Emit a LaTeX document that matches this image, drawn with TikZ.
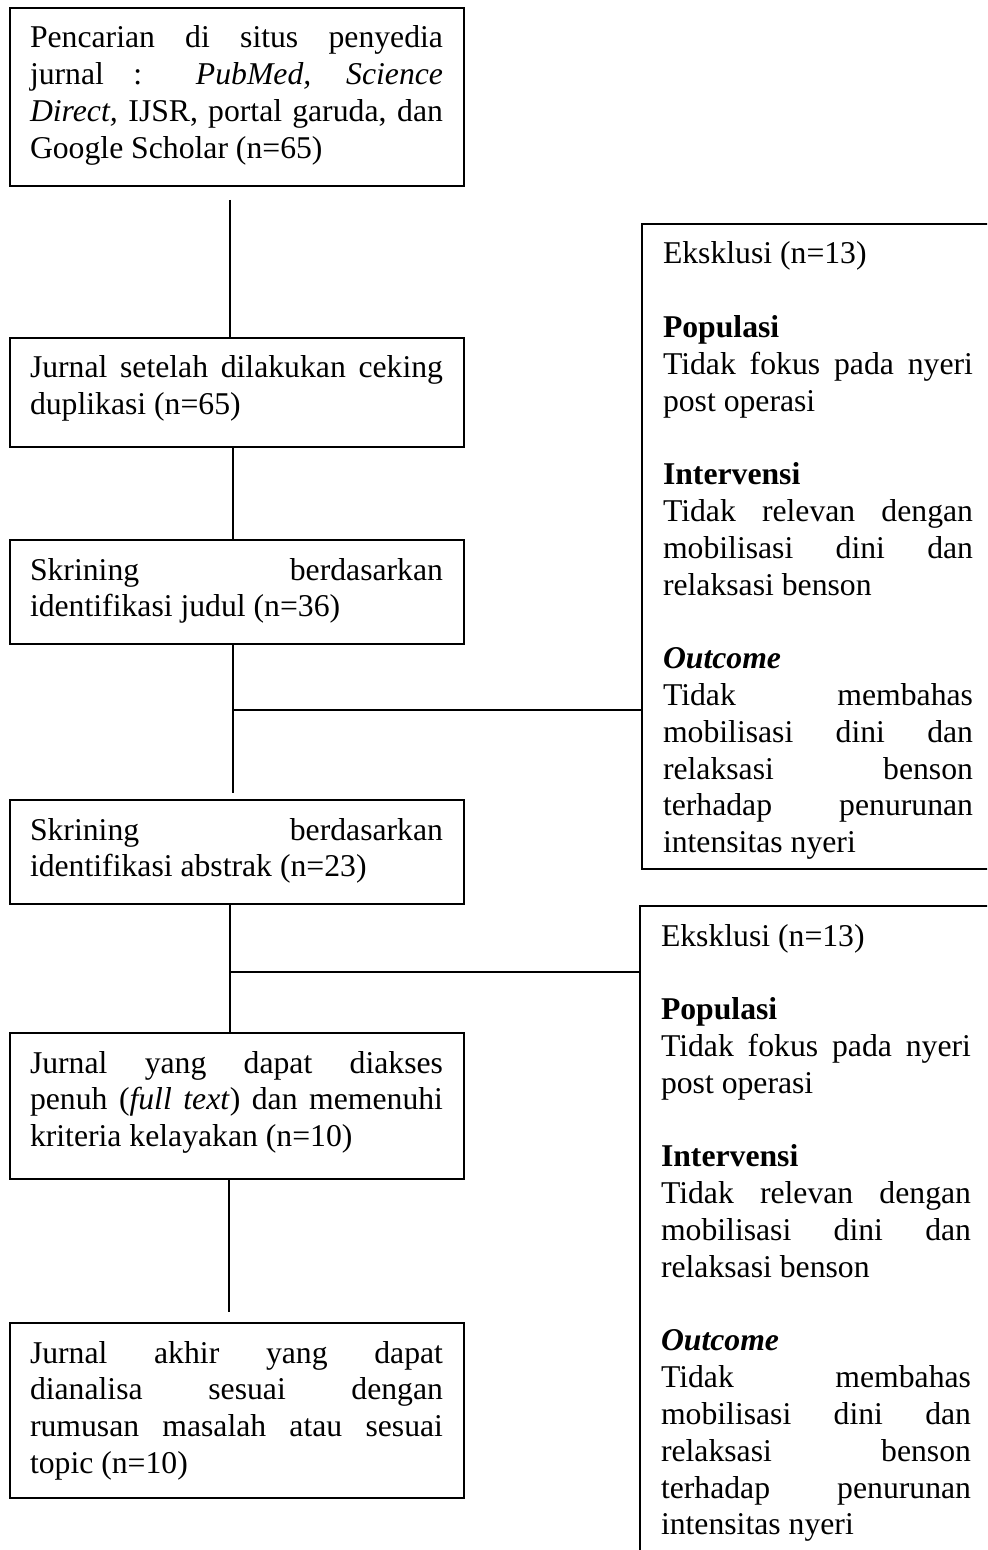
\documentclass[tikz,border=0pt]{standalone}
\usepackage{fontspec}
\setmainfont[Ligatures=NoCommon]{Liberation Serif}
\newlength\pu
\setlength\pu{0.5pt}
% #1 box width (px), #2 box height (px), #3 left pad (px), #4 right pad (px), #5 text
\newcommand\myboxtext[5]{\parbox[t][#2\pu][t]{#1\pu}{%
  \fontsize{15.85pt}{18.4pt}\selectfont
  \leftskip=#3\pu\relax\rightskip=#4\pu\relax
  \parindent=0pt\parskip=0pt
  \tolerance=10000\pretolerance=-1\hbadness=10000\hyphenpenalty=10000\exhyphenpenalty=10000
  \rule{0pt}{40\pu}#5\par}}
\newcommand\sectgap{\par\vspace{\baselineskip}}
\newcommand\exclusiontext{%
  Eksklusi (n=13)\sectgap
  \textbf{Populasi}\par
  Tidak fokus pada nyeri\linebreak post operasi\sectgap
  \textbf{Intervensi}\par
  Tidak relevan dengan\linebreak mobilisasi dini dan\linebreak relaksasi benson\sectgap
  \textbf{\textit{Outcome}}\par
  Tidak membahas\linebreak mobilisasi dini dan\linebreak relaksasi benson\linebreak terhadap penurunan\linebreak intensitas nyeri}
\tikzset{
  flowbox/.style={draw=black, line width=1pt, inner sep=0pt, outer sep=0pt, anchor=north west, fill=white},
  conn/.style={draw=black, line width=0.7pt},
}
\begin{document}
\begin{tikzpicture}[x=0.5pt, y=-0.5pt]
\useasboundingbox (0,0) rectangle (987,1550);
\clip (0,0) rectangle (987,1550);
\fill[white] (0,0) rectangle (987,1550);

% left column
\node[flowbox] (b1) at (10,8) {\myboxtext{454}{178}{20}{21}{Pencarian di situs penyedia\linebreak jurnal : \textit{PubMed, Science}\linebreak \textit{Direct,} IJSR, portal garuda, dan\linebreak Google Scholar (n=65)}};
\node[flowbox] (b2) at (10,338) {\myboxtext{454}{109}{20}{21}{Jurnal setelah dilakukan ceking\linebreak duplikasi (n=65)}};
\node[flowbox] (b3) at (10,540) {\myboxtext{454}{104}{20}{21}{Skrining berdasarkan\linebreak identifikasi judul (n=36)}};
\node[flowbox] (b4) at (10,800) {\myboxtext{454}{104}{20}{21}{Skrining berdasarkan\linebreak identifikasi abstrak (n=23)}};
\node[flowbox] (b5) at (10,1033) {\myboxtext{454}{146}{20}{21}{Jurnal yang dapat diakses\linebreak penuh (\textit{full text}) dan memenuhi\linebreak kriteria kelayakan (n=10)}};
\node[flowbox] (b6) at (10,1323) {\myboxtext{454}{175}{20}{21}{Jurnal akhir yang dapat\linebreak dianalisa sesuai dengan\linebreak rumusan masalah atau sesuai\linebreak topic (n=10)}};

% right column (exclusion boxes, cut by the right edge)
\node[flowbox] (e1) at (642,224) {\myboxtext{358}{645}{21}{27}{\exclusiontext}};
\node[flowbox] (e2) at (640,906) {\myboxtext{360}{670}{21}{29}{\exclusiontext}};

% connectors
\coordinate (c1) at (230,200);
\draw[conn] (c1) -- (c1 |- b2.north);
\draw[conn] ([xshift=-4\pu]b2.south) -- ([xshift=-4\pu]b3.north);
\coordinate (c3) at (233,793);
\draw[conn] ([xshift=-4\pu]b3.south) -- (c3);
\coordinate (j1) at (233,710);
\draw[conn] (j1) -- (j1 -| e1.west);
\draw[conn] ([xshift=-7\pu]b4.south) -- ([xshift=-7\pu]b5.north);
\coordinate (j2) at (230,972);
\draw[conn] (j2) -- (j2 -| e2.west);
\coordinate (c5) at (229,1312);
\draw[conn] ([xshift=-8\pu]b5.south) -- (c5);
\end{tikzpicture}
\end{document}
